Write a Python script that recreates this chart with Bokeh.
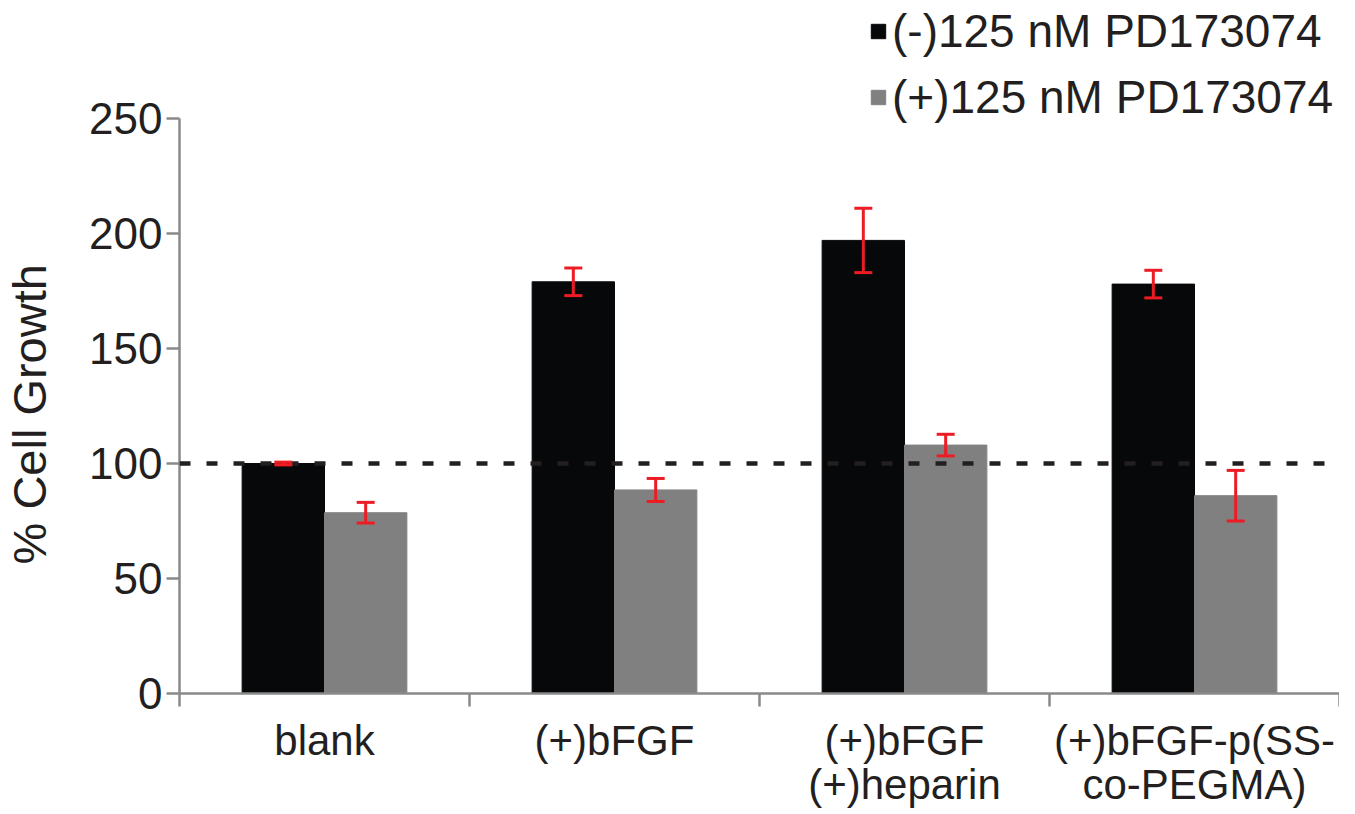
from bokeh.plotting import figure
from bokeh.models import (Range1d, FixedTicker,
                          Whisker, Span, Legend, LegendItem, ColumnDataSource, TeeHead)
from bokeh.transform import dodge
from bokeh.embed import file_html
from bokeh.resources import INLINE

# ---- data ----
categories = ["blank", "(+)bFGF", "(+)bFGF\n(+)heparin", "(+)bFGF-p(SS-\nco-PEGMA)"]
series_names = ["(-)125 nM PD173074", "(+)125 nM PD173074"]
minus_vals = [100.0, 179.0, 197.0, 178.0]
minus_err = [0.6, 6.0, 14.0, 6.0]
plus_vals = [78.6, 88.5, 108.0, 86.0]
plus_err = [4.5, 5.0, 4.7, 11.0]
y_ticks = [0, 50, 100, 150, 200, 250]
y_axis_max = 250
reference_level = 100
y_title = "% Cell Growth"

FONT = "Liberation Sans"
TXT = "#231f20"
AXIS = "#8a8a8a"
BLACK = "#070809"
GRAY = "#808080"
RED = "#ed1c24"

n = len(categories)
centers = [i + 0.5 for i in range(n)]
bounds = list(range(n + 1))

src = ColumnDataSource(dict(
    x=centers,
    minus=minus_vals,
    minus_lo=[v - e for v, e in zip(minus_vals, minus_err)],
    minus_hi=[v + e for v, e in zip(minus_vals, minus_err)],
    plus=plus_vals,
    plus_lo=[v - e for v, e in zip(plus_vals, plus_err)],
    plus_hi=[v + e for v, e in zip(plus_vals, plus_err)],
))

# layout (pixels): frame spans 4..693, axis range 0..250 occupies the lower 575 px
H, TOP, BOTTOM = 812, 4, 119
frame_h = H - TOP - BOTTOM
axis_px = 575
y_end = y_axis_max * frame_h / axis_px

p = figure(x_range=Range1d(0, n), y_range=Range1d(0, y_end),
           width=1339, height=H, output_backend="svg", toolbar_location=None,
           min_border_left=170, min_border_right=0, min_border_top=TOP,
           min_border_bottom=BOTTOM)
p.grid.visible = False
p.outline_line_color = None

off = 0.142
w = 0.284
r1 = p.vbar(x=dodge("x", -off), top="minus", width=w, source=src,
            fill_color=BLACK, line_color=BLACK)
r2 = p.vbar(x=dodge("x", off), top="plus", width=w, source=src,
            fill_color=GRAY, line_color=GRAY)

p.add_layout(Span(location=reference_level, dimension="width", line_color=TXT,
                  line_width=4.5, line_dash="11 16", level="overlay"))

for base, lo, hi in [(-off, "minus_lo", "minus_hi"), (off, "plus_lo", "plus_hi")]:
    wk = Whisker(source=src, base=dodge("x", base), lower=lo, upper=hi,
                 line_color=RED, line_width=3, level="overlay",
                 upper_head=TeeHead(size=18, line_color=RED, line_width=3),
                 lower_head=TeeHead(size=18, line_color=RED, line_width=3))
    p.add_layout(wk)

# y axis
ya = p.yaxis[0]
ya.ticker = FixedTicker(ticks=y_ticks)
ya.bounds = (0, y_axis_max)
ya.minor_tick_line_color = None
ya.axis_line_color = AXIS
ya.axis_line_width = 2.5
ya.major_tick_line_color = AXIS
ya.major_tick_line_width = 2.5
ya.major_tick_out = 13
ya.major_tick_in = 0
ya.major_label_standoff = 4
ya.major_label_text_font = FONT
ya.major_label_text_font_size = "44px"
ya.major_label_text_color = TXT
# non-breaking padding keeps the title centred on the 0-250 part of the axis
ya.axis_label = y_title + "\u00a0" * 10
ya.axis_label_text_font = FONT
ya.axis_label_text_font_size = "47px"
ya.axis_label_text_font_style = "normal"
ya.axis_label_text_color = TXT
ya.axis_label_standoff = 30

# x axis: labels at category centres, minor ticks at category boundaries
xa = p.xaxis[0]
xa.ticker = FixedTicker(ticks=centers, minor_ticks=bounds)
xa.major_label_overrides = {c: lab for c, lab in zip(centers, categories)}
xa.axis_line_color = AXIS
xa.axis_line_width = 2.5
xa.major_tick_line_color = None
xa.major_tick_out = 0
xa.major_tick_in = 0
xa.minor_tick_line_color = AXIS
xa.minor_tick_line_width = 2.5
xa.minor_tick_out = 13
xa.minor_tick_in = 0
xa.major_label_text_font = FONT
xa.major_label_text_font_size = "42px"
xa.major_label_text_color = TXT
xa.major_label_text_line_height = 0.95
xa.major_label_standoff = 10
xa.major_label_orientation = "horizontal"

legend = Legend(items=[LegendItem(label=series_names[0], renderers=[r1]),
                       LegendItem(label=series_names[1], renderers=[r2])],
                location=(690, axis_px - 6), orientation="vertical",
                label_text_font=FONT, label_text_font_size="46px", label_text_color=TXT,
                glyph_width=18, glyph_height=18, label_standoff=5, spacing=12,
                padding=0, margin=0, border_line_color=None, background_fill_alpha=0)
p.add_layout(legend)

open("out.html", "w").write(file_html(p, INLINE))
